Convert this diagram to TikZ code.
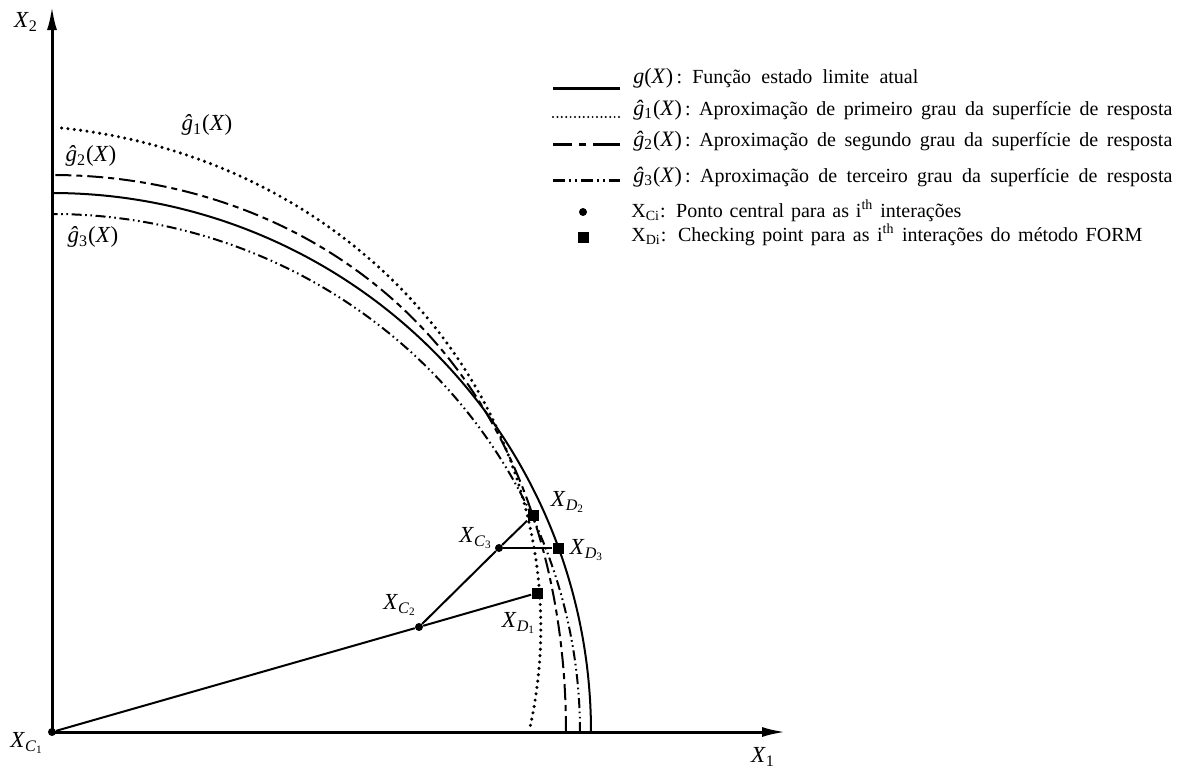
\documentclass[tikz,border=0pt]{standalone}
\usepackage{fontspec}
\setmainfont{Liberation Serif}
\usetikzlibrary{arrows.meta}
\hbadness=10000
\newcommand\Xsub[2]{\textit{X}\textsubscript{\textit{#1}\textsubscript{#2}}}
\newcommand\ghat[1]{\textit{ĝ}\textsubscript{#1}(\textit{X})}
\newcommand\mth[1]{{\fontsize{11pt}{13pt}\selectfont #1}}
\newcommand\legline[2]{\makebox[#1][s]{#2}}
\begin{document}
\begin{tikzpicture}[x=0.5pt,y=-0.5pt,
  every node/.style={font=\fontsize{11.5pt}{13pt}\selectfont, inner sep=0pt},
  axis/.style={line width=1.5pt, -{Latex[length=12pt,width=5pt]}},
  gsolid/.style={line width=1pt},
  gdot/.style={line width=1.7pt, line cap=round, dash pattern=on 0pt off 3.2pt},
  gdash/.style={line width=1pt, dash pattern=on 8pt off 2.5pt on 3pt off 2.5pt},
  gdashdot/.style={line width=1pt, dash pattern=on 5pt off 1.8pt on 0.8pt off 1.8pt on 0.8pt off 1.8pt},
  legsolid/.style={line width=1.5pt},
  legdot/.style={line width=1.1pt, line cap=round, dash pattern=on 0pt off 2.2pt},
  legdash/.style={line width=1.5pt, dash pattern=on 9.5pt off 3.5pt on 3.5pt off 3.5pt on 20pt off 1pt},
  legdashdot/.style={line width=1.5pt, dash pattern=on 6pt off 2pt on 1pt off 2pt on 1pt off 2pt},
  ptc/.style={circle, fill=black, minimum size=4pt, inner sep=0pt},
  ptd/.style={rectangle, fill=black, minimum size=5.5pt, inner sep=0pt},
  seg/.style={line width=1pt},
  legtext/.style={anchor=base west, font=\fontsize{10pt}{12pt}\selectfont},
  declare function={
    rone(\t)=477+1.422*\t+14*sin(2*\t);
    rtwo(\t)=557-43*cos(\t)*cos(\t)*cos(\t)*cos(\t);
    rthree(\t)=528-10*sin(\t)*sin(\t);
  }]
\useasboundingbox (0,0) rectangle (1184,772);

% curves
\draw[gsolid] plot[domain=0:90, samples=91, smooth] ({52+539*cos(\x)},{732-539*sin(\x)});
\draw[gdot] plot[domain=0.8:89.5, samples=90, smooth] ({52+rone(\x)*cos(\x)},{732-rone(\x)*sin(\x)});
\draw[gdash] plot[domain=0:90, samples=91, smooth] ({52+rtwo(\x)*cos(\x)},{732-rtwo(\x)*sin(\x)});
\draw[gdashdot] plot[domain=0:90, samples=91, smooth] ({52+rthree(\x)*cos(\x)},{732-rthree(\x)*sin(\x)});

% points
\node[ptc] (C1) at (52,732) {};
\coordinate (xtip) at (786,732);
\coordinate (ytip) at (52,6);
\draw[axis] (C1.center) -- (xtip);
\draw[axis] (C1.center) -- (ytip);
\node[ptc] (C2) at (419,627) {};
\node[ptc] (C3) at (499,548) {};
\node[ptd] (D1) at (537,593) {};
\node[ptd] (D2) at (533,515) {};
\node[ptd] (D3) at (558,548) {};
\draw[seg] (C1) -- (C2) -- (D1);
\draw[seg] (C2) -- (C3) -- (D2);
\draw[seg] (C3) -- (D3);

% labels
\node (lX2) at (26,22) {\textit{X}\textsubscript{2}};
\node (lX1) at (763,757) {\textit{X}\textsubscript{1}};
\node (lC1) at (27,743) {\Xsub{C}{1}};
\node (lC2) at (400,605) {\Xsub{C}{2}};
\node (lC3) at (476,538) {\Xsub{C}{3}};
\node (lD1) at (519,623) {\Xsub{D}{1}};
\node (lD2) at (568,502) {\Xsub{D}{2}};
\node (lD3) at (587,550) {\Xsub{D}{3}};
\node (lg1) at (207,125) {\ghat{1}};
\node (lg2) at (91,156) {\ghat{2}};
\node (lg3) at (93,237) {\ghat{3}};

% legend
\draw[legsolid] (553,88) -- (620,88);
\draw[legdot] (553,117) -- (620,117);
\draw[legdash] (553,144) -- (620,144);
\draw[legdashdot] (553,180) -- (620,180);
\node[ptc] (m1) at (583,212) {};
\node[ptd] (m2) at (583,237) {};
\node[legtext] (t1) at (633,83) {\legline{142.5pt}{\mth{\textit{g}(\textit{X})}\,: Função estado limite atual}};
\node[legtext] (t2) at (633,115) {\legline{269.5pt}{\mth{\ghat{1}}\,: Aproximação de primeiro grau da superfície de resposta}};
\node[legtext] (t3) at (633,146) {\legline{269.5pt}{\mth{\ghat{2}}\,: Aproximação de segundo grau da superfície de resposta}};
\node[legtext] (t4) at (633,182) {\legline{269.5pt}{\mth{\ghat{3}}\,: Aproximação de terceiro grau da superfície de resposta}};
\node[legtext] (t5) at (631,217) {\legline{165pt}{X\textsubscript{Ci}: Ponto central para as i\textsuperscript{th} interações}};
\node[legtext] (t6) at (631,241) {\legline{255.5pt}{X\textsubscript{Di}: Checking point para as i\textsuperscript{th} interações do método FORM}};
\end{tikzpicture}
\end{document}
